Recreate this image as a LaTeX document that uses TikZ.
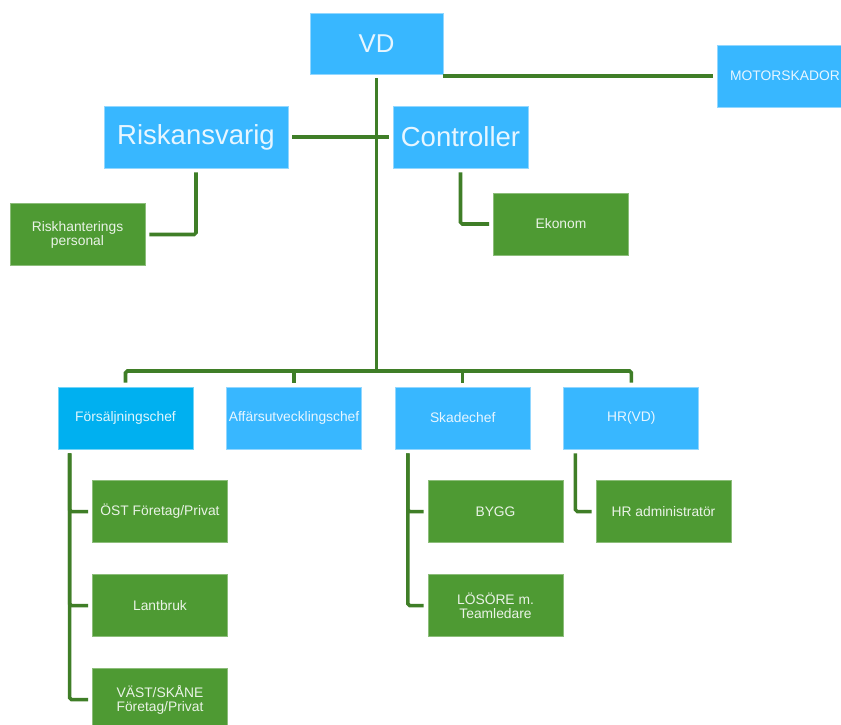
\documentclass[tikz,border=0pt]{standalone}
\usepackage{fontspec}
\setmainfont{Liberation Sans}
\usepackage{tikz}
\usetikzlibrary{positioning}
\definecolor{boxBlue}{HTML}{38B7FF}
\definecolor{boxCyan}{HTML}{00B0F0}
\definecolor{boxGreen}{HTML}{4E9A33}
\definecolor{lineGreen}{HTML}{3F7E27}
\tikzset{
  orgbox/.style={rectangle, minimum width=4.05cm, minimum height=1.86cm, inner sep=0pt,
    align=center, font=\fontsize{11.8}{12}\selectfont},
  bluebox/.style={orgbox, fill=boxBlue, draw=boxBlue!55!white, line width=0.5pt, text=white!88!boxBlue},
  greenbox/.style={orgbox, fill=boxGreen, draw=boxGreen!65!white, line width=0.5pt, text=white!88!boxGreen},
  bigtext/.style={font=\fontsize{23.5}{26}\selectfont},
  link/.style={draw=lineGreen, line width=3pt, shorten <=3.4pt, shorten >=3.4pt, rounded corners=1.5pt}
}
\begin{document}
\begin{tikzpicture}[x=0.03cm, y=-0.03cm, node distance=0.945cm and 0.99cm]
            \clip (0,0) rectangle (841,724);
            \fill [white] (0,0) rectangle (841,724);
            \node [bluebox, minimum width=3.99cm, minimum height=1.83cm, font=\fontsize{22}{24}\selectfont] (VD) at (376.5,43.5) {VD};
            \node [bluebox] (Motor) at (785,76) {MOTORSKADOR};
            \node [bluebox, bigtext, minimum width=5.52cm] (Risk) at (196,137) {Riskansvarig};
            \node [bluebox, bigtext] (Ctrl) at (460.5,137) {Controller};
            \node [greenbox] (RiskPers) at (77.5,234.5) {Riskhanterings\\personal};
            \node [greenbox] (Ekonom) at (561,224) {Ekonom};
            \node [bluebox, fill=boxCyan, draw=boxCyan!55!white, text=white!88!boxCyan] (Forsalj) at (125.5,418) {Försäljningschef};
            \node [bluebox, right=of Forsalj] (Affars) {Affärsutvecklingschef};
            \node [bluebox, right=of Affars] (Skade) {Skadechef};
            \node [bluebox, right=of Skade] (HR) {HR(VD)};
            \node [greenbox] (Ost) at (160,511.5) {ÖST Företag/Privat};
            \node [greenbox, below=of Ost] (Lant) {Lantbruk};
            \node [greenbox, below=of Lant] (Vast) {VÄST/SKÅNE\\Företag/Privat};
            \node [greenbox] (Bygg) at (495.5,511.5) {BYGG};
            \node [greenbox, below=of Bygg] (Losore) {LÖSÖRE m.\\Teamledare};
            \node [greenbox] (HRadm) at (663.5,511.5) {HR administratör};
            \coordinate (Bus) at (376.5,371);
            \draw [link, shorten >=0pt] (VD.south) -- (Bus);
            \draw [link] (Forsalj.north) |- (Bus) -| (HR.north);
            \draw [link, shorten >=0pt] (Affars.north) -- (Affars.north |- Bus);
            \draw [link, shorten >=0pt] (Skade.north) -- (Skade.north |- Bus);
            \draw [link, shorten >=0pt] (Motor.west) -- (Motor.west -| VD.east);
            \draw [link] (Risk.east) -- (Ctrl.west);
            \draw [link] (Risk.south) |- (RiskPers.east);
            \draw [link] (Ctrl.south) |- (Ekonom.west);
            \draw [link] ([xshift=0.36cm]Forsalj.south west) |- (Ost.west);
            \draw [link] ([xshift=0.36cm]Forsalj.south west) |- (Lant.west);
            \draw [link] ([xshift=0.36cm]Forsalj.south west) |- (Vast.west);
            \draw [link] ([xshift=0.39cm]Skade.south west) |- (Bygg.west);
            \draw [link] ([xshift=0.39cm]Skade.south west) |- (Losore.west);
            \draw [link] ([xshift=0.36cm]HR.south west) |- (HRadm.west);
        \end{tikzpicture}
\end{document}
